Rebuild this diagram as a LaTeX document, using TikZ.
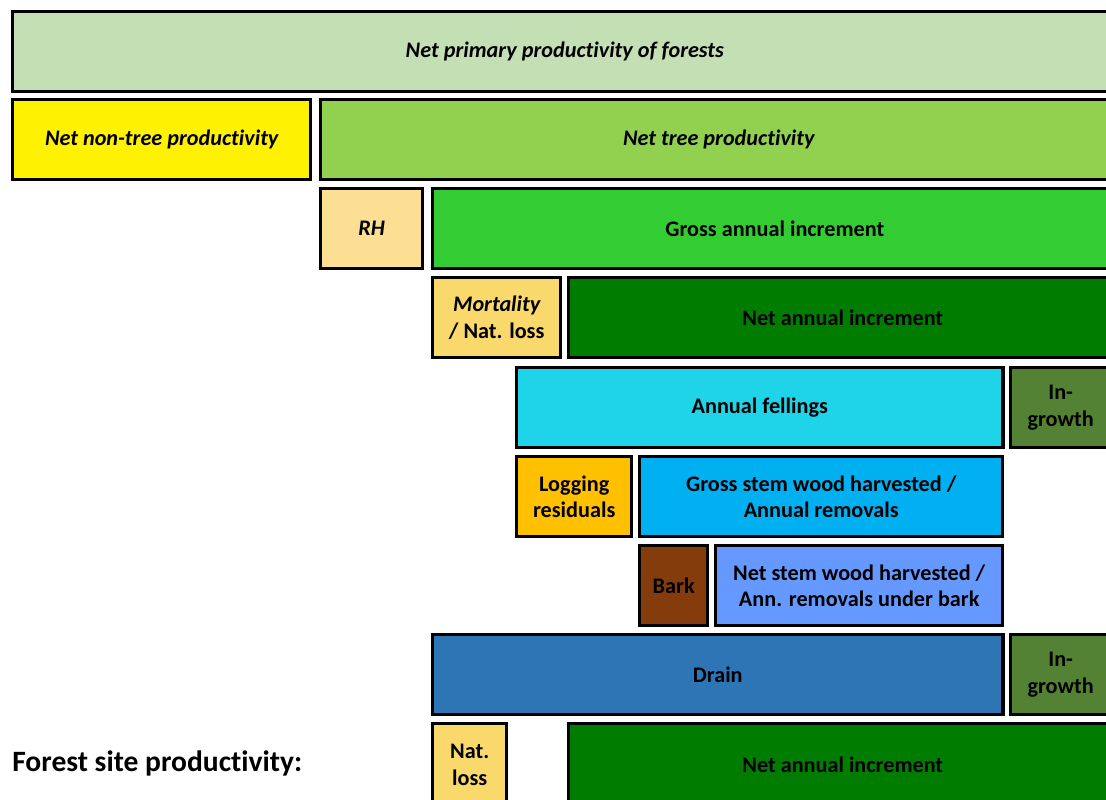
\documentclass[tikz,border=0pt]{standalone}
\usepackage{fontspec}
\setmainfont{Carlito}[RawFeature={-liga}]
\usetikzlibrary{positioning}

\definecolor{nppgreen}{HTML}{C5DFB5}
\definecolor{treegreen}{HTML}{92D050}
\definecolor{grossgreen}{HTML}{33CC33}
\definecolor{netgreen}{HTML}{007D00}
\definecolor{rhyellow}{HTML}{FCDF93}
\definecolor{mortyellow}{HTML}{FAD96C}
\definecolor{fellcyan}{HTML}{1FD3E8}
\definecolor{ingrowth}{HTML}{548235}
\definecolor{logorange}{HTML}{FFC000}
\definecolor{grossblue}{HTML}{00B0F0}
\definecolor{barkbrown}{HTML}{843C0C}
\definecolor{netblue}{HTML}{6699FF}
\definecolor{drainblue}{HTML}{2E75B6}

\begin{document}
\begin{tikzpicture}[x=0.025cm,y=0.025cm,
  box/.style={draw=black, line width=2.4pt, anchor=north west, inner sep=0pt,
    minimum height=2cm, align=center, font=\fontsize{15.8}{19}\selectfont\bfseries},
  itbox/.style={box, font=\fontsize{15.8}{19}\selectfont\bfseries\itshape}]
\useasboundingbox (0,0) rectangle (1106,-800);
\clip (0,0) rectangle (1106,-800);
% top rows
\node[itbox, fill=nppgreen, minimum width=27.6cm] (npp) at (11,-10) {Net primary productivity of forests};
\node[itbox, fill=yellow, minimum width=7.45cm] (nontree) at (11,-98) {Net non-tree productivity};
\node[itbox, fill=treegreen, minimum width=19.9cm] (tree) at (319,-98) {Net tree productivity};
\node[itbox, fill=rhyellow, minimum width=2.55cm] (rh) at (319,-187) {RH};
\node[box, fill=grossgreen, minimum width=17.1cm] (gai) at (431,-187) {Gross annual increment};
\node[box, fill=mortyellow, minimum width=3.2cm] (mort) at (431,-276) {\itshape Mortality\\/ Nat. loss};
\node[box, fill=netgreen, minimum width=13.7cm] (nai) at (567,-276) {Net annual increment};
% fellings and removals
\node[box, fill=fellcyan, minimum width=12.15cm] (fell) at (515,-366) {Annual fellings};
\node[box, fill=ingrowth, minimum width=2.5cm] (ingrA) at (1009,-366) {In-\\growth};
\node[box, fill=logorange, minimum width=2.875cm] (logres) at (515,-455) {Logging\\residuals};
\node[box, fill=grossblue, minimum width=9.075cm] (gross) at (638,-455) {Gross stem wood harvested /\\Annual removals};
\node[box, fill=barkbrown, minimum width=1.7cm] (bark) at (638,-544) {Bark};
\node[box, fill=netblue, minimum width=7.175cm] (netstem) at (714,-544) {Net stem wood harvested /\\Ann. removals under bark};
% drain
\node[box, fill=drainblue, minimum width=14.25cm] (drain) at (431,-633) {Drain};
\node[box, fill=ingrowth, minimum width=2.5cm] (ingrB) at (1009,-633) {In-\\growth};
% site productivity
\node[box, fill=mortyellow, minimum width=1.85cm, minimum height=2.05cm] (natloss) at (431,-722) {Nat.\\loss};
\node[box, fill=netgreen, minimum width=13.7cm, minimum height=2.05cm] (naiB) at (567,-722) {Net annual increment};
\node[anchor=west, inner sep=0pt, font=\fontsize{21}{24}\selectfont\bfseries] (site) at (12,-763) {Forest site productivity:};
\end{tikzpicture}
\end{document}
